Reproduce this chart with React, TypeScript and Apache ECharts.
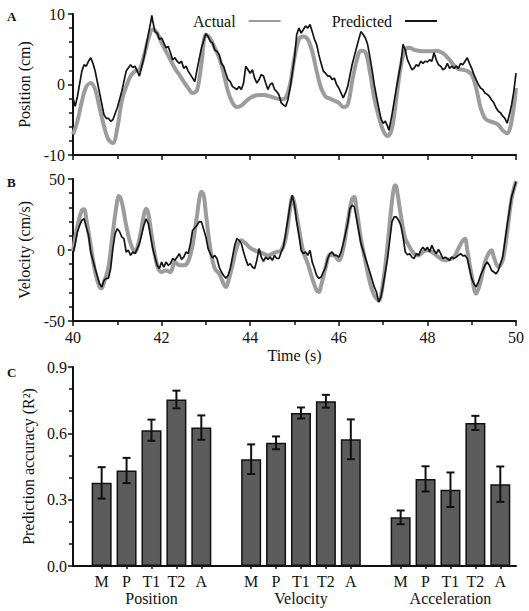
import React, { useEffect, useRef } from "react";
import * as echarts from "echarts";

// Panel A: position (cm) vs time (s)
const positionActual: number[][] = [
  [40.0,-7.1],[40.1,-5.2],[40.2,-2.4],[40.3,-0.3],[40.4,0.2],[40.5,-0.7],[40.6,-3.3],[40.7,-5.9],[40.8,-7.8],[40.9,-8.3],
  [41.0,-6.2],[41.1,-2.4],[41.2,-0.3],[41.3,1.2],[41.4,1.9],[41.5,2.1],[41.6,4.0],[41.7,6.4],[41.8,7.8],[41.9,7.3],
  [42.0,5.9],[42.1,4.7],[42.2,3.5],[42.3,2.3],[42.4,1.4],[42.5,0.4],[42.6,-0.5],[42.7,-1.2],[42.8,-0.8],[42.9,3.0],
  [43.0,7.1],[43.1,6.5],[43.2,5.2],[43.3,3.8],[43.4,1.6],[43.5,-1.0],[43.6,-2.6],[43.7,-3.2],[43.8,-3.0],[43.9,-2.4],
  [44.0,-1.9],[44.1,-1.6],[44.2,-1.5],[44.3,-1.5],[44.4,-1.6],[44.5,-1.8],[44.6,-2.0],[44.7,-2.1],[44.8,-1.9],[44.9,0],
  [45.0,3.8],[45.1,6.4],[45.2,6.8],[45.3,6.4],[45.4,4.7],[45.5,1.9],[45.6,-0.5],[45.7,-1.7],[45.8,-2.0],[45.9,-2.3],
  [46.0,-2.6],[46.1,-3.2],[46.2,-2.9],[46.3,0.4],[46.4,3.3],[46.5,4.8],[46.6,4.6],[46.7,1.9],[46.8,-1.9],[46.9,-4.5],
  [47.0,-6.5],[47.1,-7.3],[47.2,-6.2],[47.3,-1.9],[47.4,2.6],[47.5,4.9],[47.6,5.2],[47.7,4.9],[47.8,4.8],[47.9,4.7],
  [48.0,4.7],[48.1,4.7],[48.2,4.8],[48.3,4.6],[48.4,4.2],[48.5,3.5],[48.6,2.7],[48.7,2.2],[48.8,2.1],[48.9,1.9],
  [49.0,1.4],[49.1,-0.5],[49.2,-3.3],[49.3,-4.8],[49.4,-5.2],[49.5,-5.4],[49.6,-5.7],[49.7,-6.5],[49.8,-6.9],[49.9,-5.2],
  [50.0,-0.5]
];

const positionPredicted: number[][] = [
  [40.0,-1.9],[40.05,-3.1],[40.1,-1.7],[40.2,1.9],[40.25,2.8],[40.3,2.6],[40.35,3.3],[40.4,3.8],[40.45,3.0],[40.5,1.9],
  [40.6,-1.2],[40.7,-4.3],[40.75,-4.8],[40.8,-4.8],[40.85,-5.2],[40.9,-5.0],[41.0,-3.3],[41.1,-1.0],[41.2,1.9],[41.3,2.8],
  [41.35,2.4],[41.4,2.6],[41.45,1.9],[41.5,1.2],[41.6,3.8],[41.7,7.1],[41.75,8.7],[41.78,9.8],[41.8,9.0],[41.85,7.5],
  [41.9,7.3],[41.95,6.4],[42.0,6.6],[42.05,5.9],[42.1,5.2],[42.15,5.4],[42.2,4.5],[42.25,3.5],[42.3,3.8],[42.35,3.3],
  [42.4,3.0],[42.45,3.3],[42.5,2.3],[42.55,2.6],[42.6,1.9],[42.65,1.4],[42.7,0.9],[42.75,0.4],[42.8,2.1],[42.9,5.2],
  [43.0,7.2],[43.05,6.8],[43.1,6.1],[43.15,5.9],[43.2,4.9],[43.25,4.7],[43.3,4.2],[43.35,3.0],[43.4,2.6],[43.45,1.6],
  [43.5,0.7],[43.55,0.4],[43.6,-0.3],[43.65,-0.5],[43.7,-0.7],[43.75,-0.3],[43.8,-0.7],[43.85,0.2],[43.9,2.6],[43.95,2.1],
  [44.0,1.6],[44.05,2.1],[44.1,0.9],[44.15,0.2],[44.2,0.7],[44.25,1.4],[44.3,1.2],[44.35,0.2],[44.4,-0.7],[44.45,0],
  [44.5,0.2],[44.55,-0.7],[44.6,-1.0],[44.65,-1.5],[44.7,-2.6],[44.75,-2.9],[44.8,-3.1],[44.85,-2.2],[44.9,-0.5],[45.0,3.8],
  [45.05,7.1],[45.1,8.0],[45.15,7.3],[45.2,7.8],[45.25,8.3],[45.3,8.0],[45.35,8.5],[45.4,7.5],[45.45,6.4],[45.5,5.7],
  [45.55,4.2],[45.6,3.0],[45.65,1.9],[45.7,1.6],[45.75,1.2],[45.8,1.2],[45.85,0.7],[45.9,0.9],[45.95,0],[46.0,-0.5],
  [46.05,-1.2],[46.1,-1.9],[46.15,-1.2],[46.2,-0.3],[46.3,2.8],[46.4,5.2],[46.45,6.4],[46.5,7.5],[46.55,7.1],[46.6,6.6],
  [46.65,5.7],[46.7,4.0],[46.75,2.1],[46.8,0],[46.85,-1.7],[46.9,-3.3],[46.95,-4.8],[47.0,-5.5],[47.05,-5.2],[47.1,-5.9],
  [47.13,-6.5],[47.2,-4.3],[47.3,-0.5],[47.4,3.0],[47.45,5.7],[47.5,4.9],[47.55,3.5],[47.6,2.8],[47.65,2.1],[47.7,2.3],
  [47.75,2.8],[47.8,2.6],[47.85,3.3],[47.9,3.0],[47.95,3.3],[48.0,3.2],[48.05,3.5],[48.1,3.3],[48.15,4.5],[48.2,3.5],
  [48.25,2.8],[48.3,2.6],[48.35,2.1],[48.4,2.3],[48.45,3.0],[48.5,2.3],[48.55,2.6],[48.6,2.3],[48.65,2.6],[48.7,2.3],
  [48.75,3.0],[48.8,2.8],[48.85,3.3],[48.9,3.8],[48.95,3.0],[49.0,2.3],[49.05,1.4],[49.1,0.7],[49.15,0],[49.2,-0.5],
  [49.25,-0.7],[49.3,-1.2],[49.35,-1.4],[49.4,-1.7],[49.45,-2.2],[49.5,-2.6],[49.55,-3.3],[49.6,-3.8],[49.65,-4.0],[49.7,-4.5],
  [49.75,-4.8],[49.8,-5.5],[49.85,-4.3],[49.9,-2.9],[49.95,-1.0],[50.0,1.6]
];

// Panel B: velocity (cm/s) vs time (s)
const velocityActual: number[][] = [
  [40.0,-1],[40.1,17],[40.2,28],[40.25,28.7],[40.3,22],[40.4,3.3],[40.5,-15.5],[40.6,-26],[40.65,-27],[40.7,-22.6],
  [40.8,-12],[40.9,12.7],[41.0,35],[41.03,38],[41.1,34],[41.2,17.4],[41.3,4.5],[41.4,-1.4],[41.5,8],[41.6,24.5],
  [41.65,29],[41.7,25.6],[41.8,5.6],[41.9,-10.8],[42.0,-15.5],[42.1,-14.4],[42.2,-15.5],[42.3,-8.5],[42.4,-10.8],[42.5,-10.8],
  [42.6,-8],[42.7,3.3],[42.8,24.5],[42.9,41],[42.95,38.6],[43.0,25.6],[43.1,1],[43.2,-13],[43.3,-16.7],[43.4,-23.8],
  [43.45,-26],[43.5,-22.6],[43.6,-10.8],[43.7,2],[43.8,6.8],[43.9,4.5],[44.0,1.4],[44.1,-0.2],[44.2,-1.4],[44.3,-2.6],
  [44.4,-3.8],[44.5,-2.6],[44.6,-1.4],[44.7,-0.2],[44.8,8],[44.9,29],[44.95,37.4],[45.0,32.7],[45.1,15],[45.2,-1.4],
  [45.3,-9.6],[45.4,-20],[45.5,-28.5],[45.55,-29.6],[45.6,-25],[45.7,-13],[45.8,-3.3],[45.9,-3.8],[46.0,-7.3],[46.1,1],
  [46.2,19.8],[46.3,36],[46.35,37.4],[46.4,29],[46.5,8],[46.6,-8],[46.7,-22.6],[46.8,-32],[46.9,-35.5],[47.0,-22.6],
  [47.1,3.3],[47.2,34],[47.27,45.6],[47.3,44.5],[47.4,24.5],[47.5,8],[47.6,2.1],[47.7,-2.6],[47.8,-3.8],[47.9,-1.4],
  [48.0,-0.2],[48.1,-1.4],[48.2,-3.8],[48.3,-6],[48.4,-7.3],[48.5,-6.6],[48.6,-5],[48.7,1],[48.8,6.8],[48.85,8],
  [48.9,-0.2],[49.0,-17.9],[49.1,-30.8],[49.2,-22.6],[49.3,-8.5],[49.4,-1.4],[49.45,-0.2],[49.5,-5],[49.6,-12],[49.7,-7.3],
  [49.8,12.7],[49.9,36],[50.0,48.5]
];

const velocityPredicted: number[][] = [
  [40.0,-2.6],[40.05,4.5],[40.1,12.7],[40.15,17.4],[40.2,21],[40.25,22],[40.3,16],[40.35,10.4],[40.4,-1.4],[40.5,-13],
  [40.6,-23.8],[40.65,-26],[40.7,-21.4],[40.75,-20],[40.8,-20],[40.85,-13],[40.9,1],[40.95,11.5],[41.0,15],[41.05,13],
  [41.1,9.2],[41.15,8],[41.2,-1.4],[41.25,-0.2],[41.3,-3.8],[41.35,-1.4],[41.4,-2.6],[41.5,4.5],[41.6,17.4],[41.65,22],
  [41.7,18.6],[41.8,1],[41.9,-10.8],[41.95,-13],[42.0,-8.5],[42.05,-12],[42.1,-8.5],[42.15,-10.8],[42.2,-9.6],[42.25,-6],
  [42.3,-7.3],[42.35,-5],[42.4,-2.6],[42.45,-6.6],[42.5,-5],[42.55,-1.4],[42.6,-2.6],[42.65,4.5],[42.7,13.9],[42.8,17.4],
  [42.85,20],[42.9,19.8],[43.0,9.2],[43.05,1],[43.1,-2.6],[43.15,-5.6],[43.2,-3.8],[43.25,-6],[43.3,-12],[43.35,-15.5],
  [43.4,-17.9],[43.45,-19.8],[43.5,-17.9],[43.55,-13],[43.6,-5],[43.65,3.3],[43.7,8],[43.75,6.8],[43.8,4.5],[43.85,-1.4],
  [43.9,-6.6],[43.95,-10.8],[44.0,-9.6],[44.05,-12],[44.1,-13],[44.15,-7.3],[44.2,1],[44.25,-5],[44.3,-8],[44.35,-5],
  [44.4,-6.6],[44.45,-5],[44.5,-7.3],[44.55,-3.8],[44.6,-6],[44.65,-6],[44.7,-1.4],[44.75,2],[44.8,11.5],[44.9,31.5],
  [44.95,38.6],[45.0,31.5],[45.05,19.8],[45.1,10.4],[45.15,-0.2],[45.2,-2.6],[45.25,-1.4],[45.3,-3.8],[45.35,-0.2],[45.4,-8.5],
  [45.45,-13],[45.5,-17.9],[45.55,-20],[45.6,-19],[45.65,-15.5],[45.7,-12],[45.75,-6],[45.8,-2.6],[45.85,-1.4],[45.9,-3.8],
  [45.95,-3.8],[46.0,-5],[46.05,-1.4],[46.1,4.5],[46.2,18.6],[46.25,29],[46.3,31.5],[46.35,30.4],[46.4,22],[46.5,4.5],
  [46.6,-5.5],[46.7,-15.5],[46.8,-26],[46.85,-29.6],[46.9,-36.7],[46.95,-33],[47.0,-25],[47.1,-6],[47.2,19.8],[47.25,23.3],
  [47.3,23.3],[47.35,21],[47.4,17.4],[47.45,9.2],[47.5,-1.4],[47.55,-3.3],[47.6,-2.6],[47.65,-5],[47.7,-6],[47.75,-2.6],
  [47.8,-3.8],[47.85,-0.2],[47.9,2],[47.95,-0.2],[48.0,2],[48.05,-1.4],[48.1,3.3],[48.15,-0.2],[48.2,-2.6],[48.25,0.5],
  [48.3,-2.6],[48.35,-6],[48.4,-5],[48.45,-6],[48.5,-7.3],[48.55,-5],[48.6,-6],[48.65,-5],[48.7,-3.8],[48.75,-2.6],
  [48.8,-4.2],[48.85,-3.8],[48.9,-6],[48.95,-13],[49.0,-20],[49.05,-23.8],[49.1,-26],[49.15,-22.6],[49.2,-17.9],[49.3,-10.8],
  [49.35,-8.5],[49.4,-10.8],[49.45,-14.4],[49.5,-15.5],[49.55,-16.7],[49.6,-14.4],[49.7,-5],[49.8,17.4],[49.9,37.4],[50.0,48]
];

// Panel C: prediction accuracy (R^2)
const groupNames = ["Position", "Velocity", "Acceleration"];
const effectors = ["M", "P", "T1", "T2", "A"];
const positionR2 = [0.376, 0.432, 0.614, 0.753, 0.626];
const positionErr = [0.071, 0.057, 0.048, 0.040, 0.055];
const velocityR2 = [0.483, 0.557, 0.692, 0.745, 0.573];
const velocityErr = [0.067, 0.029, 0.025, 0.029, 0.090];
const accelerationR2 = [0.220, 0.394, 0.345, 0.647, 0.370];
const accelerationErr = [0.031, 0.057, 0.078, 0.032, 0.080];

const posTicks = [-10, 0, 10];
const velTicks = [-50, 0, 50];

const FONT = '"Liberation Serif", "Times New Roman", serif';
const INK = "#111111";

export default function App() {
  const ref = useRef<HTMLDivElement>(null);

  useEffect(() => {
    if (!ref.current) return;
    const chart = echarts.init(ref.current, undefined, { renderer: "svg" });

    const groupsR2 = [positionR2, velocityR2, accelerationR2];
    const groupsErr = [positionErr, velocityErr, accelerationErr];
    const slot = (g: number, i: number) => g * (effectors.length + 1) + i;
    const barData: number[][] = [];
    const errData: number[][] = [];
    const slots: number[] = [];
    groupsR2.forEach((vals, g) => {
      vals.forEach((v, i) => {
        const x = slot(g, i);
        slots.push(x);
        barData.push([x, v]);
        errData.push([x, v + groupsErr[g][i], v - groupsErr[g][i]]);
      });
    });
    const groupCenters = groupNames.map((_, g) => slot(g, 2));

    const axisLine = { show: true, onZero: false, lineStyle: { color: INK, width: 2 } };
    const tickStyle = { color: INK, width: 1.5 };
    const labelStyle = { fontFamily: FONT, fontSize: 16, color: INK };
    const nameStyle = { fontFamily: FONT, fontSize: 16, color: INK };

    const timeAxis = (gridIndex: number, showLabels: boolean) => ({
      type: "value",
      gridIndex,
      min: 40,
      max: 50,
      interval: 2,
      axisLine,
      axisTick: { show: true, length: 5, lineStyle: tickStyle },
      minorTick: { show: true, splitNumber: 2, length: 4, lineStyle: tickStyle },
      axisLabel: { show: showLabels, margin: 8, ...labelStyle },
      splitLine: { show: false },
      name: showLabels ? "Time (s)" : "",
      nameLocation: "middle",
      nameGap: 26,
      nameTextStyle: nameStyle,
    });

    const option: any = {
      animation: false,
      textStyle: { fontFamily: FONT, color: INK },
      grid: [
        { left: 73, top: 14, width: 443, height: 141 },
        { left: 73, top: 179, width: 443, height: 142 },
        { left: 73, top: 367, width: 443, height: 199 },
      ],
      legend: {
        left: 188,
        top: 8,
        align: "right",
        itemWidth: 32,
        itemHeight: 14,
        itemGap: 50,
        selectedMode: false,
        data: ["Actual", "Predicted"],
        itemStyle: { color: "rgba(0,0,0,0)", borderWidth: 0, opacity: 0 },
        textStyle: { fontFamily: FONT, fontSize: 16, color: INK, padding: [0, 8, 0, 0] },
      },
      graphic: [
        { type: "text", left: 7, top: 10, style: { text: "A", font: `bold 13px ${FONT}`, fill: INK } },
        { type: "text", left: 7, top: 176, style: { text: "B", font: `bold 13px ${FONT}`, fill: INK } },
        { type: "text", left: 7, top: 366, style: { text: "C", font: `bold 13px ${FONT}`, fill: INK } },
      ],
      xAxis: [
        timeAxis(0, false),
        timeAxis(1, true),
        {
          type: "value",
          gridIndex: 2,
          min: -1.15,
          max: 16.63,
          axisLine,
          axisTick: { show: true, customValues: slots, length: 3, lineStyle: tickStyle },
          axisLabel: {
            show: true,
            customValues: slots,
            margin: 7,
            ...labelStyle,
            formatter: (v: number) => effectors[Math.round(v) % (effectors.length + 1)] ?? "",
          },
          splitLine: { show: false },
        },
        {
          type: "value",
          gridIndex: 2,
          position: "bottom",
          min: -1.15,
          max: 16.63,
          axisLine: { show: false, onZero: false },
          axisTick: { show: false },
          axisLabel: {
            show: true,
            customValues: groupCenters,
            margin: 24,
            ...labelStyle,
            formatter: (v: number) => groupNames[Math.round(v / (effectors.length + 1))] ?? "",
          },
          splitLine: { show: false },
        },
      ],
      yAxis: [
        {
          type: "value",
          gridIndex: 0,
          min: posTicks[0],
          max: posTicks[2],
          interval: posTicks[1] - posTicks[0],
          axisLine,
          axisTick: { show: true, length: 5, lineStyle: tickStyle },
          minorTick: { show: true, splitNumber: 5, length: 4, lineStyle: tickStyle },
          axisLabel: { margin: 8, ...labelStyle },
          splitLine: { show: false },
          name: "Position (cm)",
          nameLocation: "middle",
          nameGap: 34,
          nameTextStyle: nameStyle,
        },
        {
          type: "value",
          gridIndex: 1,
          min: velTicks[0],
          max: velTicks[2],
          interval: velTicks[1] - velTicks[0],
          axisLine,
          axisTick: { show: true, length: 5, lineStyle: tickStyle },
          minorTick: { show: true, splitNumber: 5, length: 4, lineStyle: tickStyle },
          axisLabel: { margin: 8, ...labelStyle },
          splitLine: { show: false },
          name: "Velocity (cm/s)",
          nameLocation: "middle",
          nameGap: 35,
          nameTextStyle: nameStyle,
        },
        {
          type: "value",
          gridIndex: 2,
          min: 0,
          max: 0.9,
          interval: 0.3,
          axisLine,
          axisTick: { show: true, length: 5, lineStyle: tickStyle },
          minorTick: { show: true, splitNumber: 3, length: 4, lineStyle: tickStyle },
          axisLabel: { margin: 6, ...labelStyle, formatter: (v: number) => v.toFixed(1) },
          splitLine: { show: false },
          name: "Prediction accuracy (R²)",
          nameLocation: "middle",
          nameGap: 36,
          nameTextStyle: nameStyle,
        },
      ],
      series: [
        {
          name: "Actual",
          type: "line",
          xAxisIndex: 0,
          yAxisIndex: 0,
          data: positionActual,
          symbol: "none",
          smooth: 0.35,
          lineStyle: { color: "#9c9c9c", width: 4 },
          itemStyle: { color: "#9c9c9c" },
          z: 2,
        },
        {
          name: "Predicted",
          type: "line",
          xAxisIndex: 0,
          yAxisIndex: 0,
          data: positionPredicted,
          symbol: "none",
          lineStyle: { color: "#141414", width: 1.7 },
          itemStyle: { color: "#141414" },
          z: 3,
        },
        {
          name: "Actual",
          type: "line",
          xAxisIndex: 1,
          yAxisIndex: 1,
          data: velocityActual,
          symbol: "none",
          smooth: 0.35,
          lineStyle: { color: "#9c9c9c", width: 4 },
          itemStyle: { color: "#9c9c9c" },
          z: 2,
        },
        {
          name: "Predicted",
          type: "line",
          xAxisIndex: 1,
          yAxisIndex: 1,
          data: velocityPredicted,
          symbol: "none",
          lineStyle: { color: "#141414", width: 1.7 },
          itemStyle: { color: "#141414" },
          z: 3,
        },
        {
          name: "R2",
          type: "bar",
          xAxisIndex: 2,
          yAxisIndex: 2,
          data: barData,
          barWidth: 20,
          itemStyle: { color: "#5c5c5c", borderColor: INK, borderWidth: 1.5 },
          z: 2,
        },
        {
          name: "err",
          type: "custom",
          xAxisIndex: 2,
          yAxisIndex: 2,
          data: errData,
          encode: { x: 0, y: [1, 2] },
          z: 4,
          renderItem: (_params: any, api: any) => {
            const x = api.value(0);
            const hi = api.coord([x, api.value(1)]);
            const lo = api.coord([x, api.value(2)]);
            const cap = 4;
            const style = { stroke: INK, lineWidth: 2 };
            return {
              type: "group",
              children: [
                { type: "line", shape: { x1: hi[0], y1: hi[1], x2: lo[0], y2: lo[1] }, style },
                { type: "line", shape: { x1: hi[0] - cap, y1: hi[1], x2: hi[0] + cap, y2: hi[1] }, style },
                { type: "line", shape: { x1: lo[0] - cap, y1: lo[1], x2: lo[0] + cap, y2: lo[1] }, style },
              ],
            };
          },
        },
      ],
    };

    chart.setOption(option);
    return () => chart.dispose();
  }, []);

  return (
    <div
      ref={ref}
      style={{ position: "absolute", left: 0, top: 0, width: 529, height: 611, background: "#fff" }}
    />
  );
}
